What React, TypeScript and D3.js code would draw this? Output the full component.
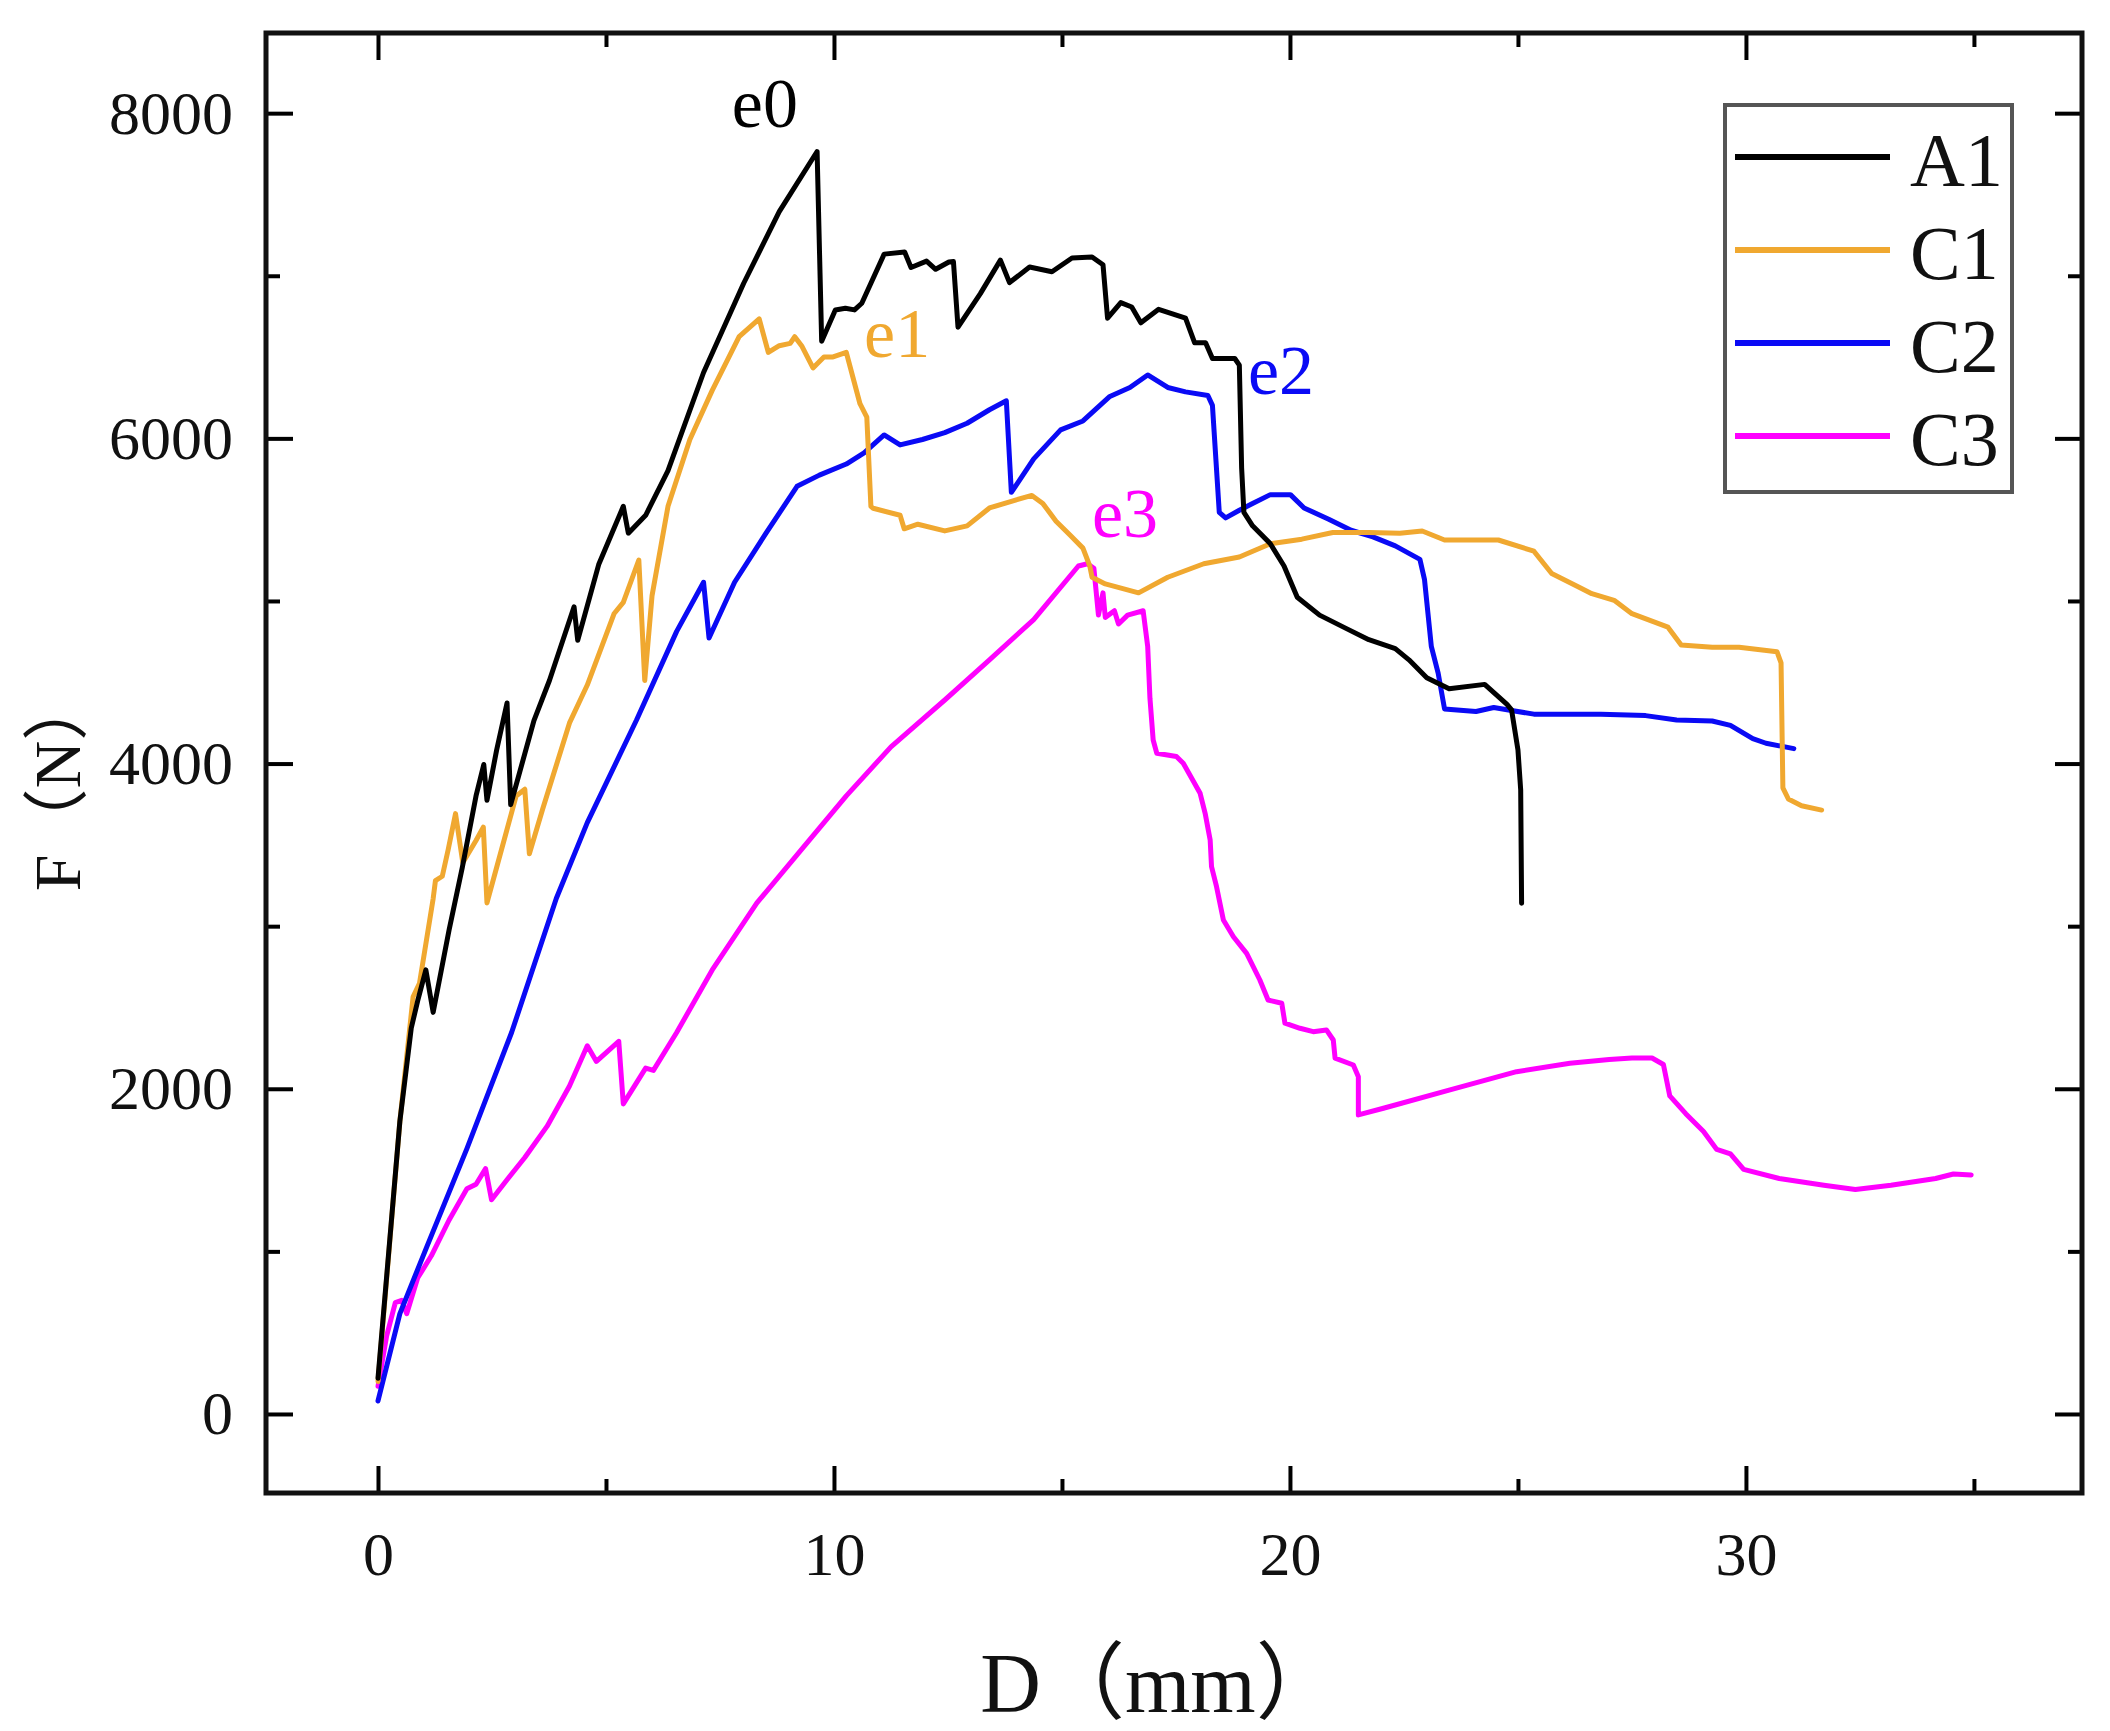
import { useEffect, useRef } from "react";
import * as d3 from "d3";

// D (mm) vs F (N)
const a1Points: [number, number][] = [
  [0.0, 220], [0.48, 1800], [0.73, 2374], [0.87, 2540], [1.05, 2731], [1.21, 2470], [1.56, 2978],
  [1.85, 3362], [2.15, 3801], [2.32, 3994], [2.39, 3774], [2.6, 4080], [2.83, 4373], [2.91, 3747],
  [3.42, 4264], [3.76, 4511], [4.3, 4964], [4.38, 4758], [4.84, 5224], [5.38, 5582], [5.49, 5417],
  [5.87, 5527], [6.36, 5801], [7.14, 6405], [8.02, 6954], [8.8, 7394], [9.63, 7764], [9.73, 6597],
  [10.03, 6790], [10.25, 6800], [10.45, 6790], [10.61, 6831], [11.1, 7133], [11.55, 7146], [11.69, 7051],
  [12.03, 7090], [12.23, 7040], [12.52, 7085], [12.62, 7087], [12.72, 6684], [13.21, 6890], [13.65, 7096],
  [13.85, 6958], [14.29, 7054], [14.78, 7025], [15.22, 7109], [15.66, 7115], [15.9, 7068], [16.0, 6739],
  [16.29, 6835], [16.53, 6808], [16.73, 6711], [17.12, 6794], [17.71, 6739], [17.91, 6588], [18.15, 6588],
  [18.3, 6491], [18.79, 6491], [18.89, 6450], [18.94, 5819], [18.99, 5545], [19.18, 5462], [19.57, 5352],
  [19.87, 5215], [20.16, 5023], [20.65, 4913], [21.24, 4830], [21.73, 4762], [22.31, 4707], [22.61, 4638],
  [23.0, 4528], [23.49, 4460], [24.27, 4487], [24.76, 4364], [24.86, 4330], [25.0, 4084], [25.06, 3838],
  [25.08, 3141],
];

const c1Points: [number, number][] = [
  [0.0, 200], [0.48, 1800], [0.77, 2566], [0.91, 2648], [1.21, 3170], [1.26, 3280], [1.41, 3307],
  [1.54, 3472], [1.7, 3692], [1.86, 3390], [2.15, 3527], [2.31, 3609], [2.39, 3143], [2.63, 3390],
  [3.03, 3801], [3.22, 3842], [3.32, 3445], [3.61, 3719], [4.2, 4250], [4.59, 4483], [5.18, 4923],
  [5.38, 4991], [5.72, 5252], [5.85, 4511], [6.01, 5032], [6.36, 5582], [6.84, 5993], [7.33, 6295],
  [7.92, 6625], [8.36, 6735], [8.56, 6529], [8.8, 6570], [9.04, 6584], [9.14, 6625], [9.29, 6570],
  [9.54, 6433], [9.78, 6501], [9.98, 6501], [10.27, 6529], [10.57, 6213], [10.72, 6131], [10.81, 5582],
  [10.86, 5570], [11.45, 5527], [11.54, 5444], [11.84, 5472], [12.43, 5431], [12.92, 5462], [13.41, 5572],
  [13.89, 5613], [14.34, 5649], [14.58, 5600], [14.87, 5490], [15.17, 5407], [15.46, 5325], [15.61, 5215],
  [15.66, 5146], [15.95, 5105], [16.68, 5050], [17.32, 5146], [18.11, 5229], [18.89, 5270], [19.57, 5352],
  [20.26, 5380], [20.94, 5421], [21.73, 5421], [22.41, 5416], [22.9, 5430], [23.39, 5375], [24.57, 5375],
  [25.35, 5306], [25.74, 5169], [26.33, 5086], [26.62, 5045], [27.11, 5004], [27.5, 4922], [28.29, 4839],
  [28.58, 4729], [29.26, 4715], [29.85, 4715], [30.68, 4688], [30.77, 4619], [30.81, 3851], [30.93, 3782],
  [31.22, 3741], [31.66, 3714],
];

const c2Points: [number, number][] = [
  [0.0, 80], [0.48, 617], [1.07, 1028], [1.95, 1632], [2.93, 2346], [3.91, 3170], [4.59, 3637],
  [5.67, 4268], [6.55, 4813], [7.14, 5115], [7.26, 4772], [7.82, 5115], [8.51, 5417], [9.19, 5705],
  [9.68, 5774], [10.27, 5842], [10.66, 5911], [11.1, 6021], [11.45, 5960], [11.94, 5993], [12.43, 6035],
  [12.92, 6093], [13.41, 6176], [13.78, 6231], [13.89, 5668], [14.38, 5874], [14.97, 6052], [15.46, 6107],
  [16.05, 6258], [16.49, 6313], [16.88, 6390], [17.32, 6313], [17.71, 6286], [18.2, 6264], [18.3, 6203],
  [18.45, 5545], [18.59, 5511], [18.89, 5558], [19.18, 5599], [19.57, 5654], [20.01, 5654], [20.31, 5572],
  [20.85, 5503], [21.34, 5435], [21.82, 5394], [22.31, 5339], [22.85, 5256], [22.95, 5133], [23.1, 4721],
  [23.25, 4556], [23.39, 4336], [24.08, 4320], [24.47, 4345], [24.76, 4331], [25.35, 4304], [26.82, 4304],
  [27.8, 4295], [28.48, 4268], [29.26, 4262], [29.66, 4235], [30.15, 4153], [30.44, 4125], [31.05, 4092],
];

const c3Points: [number, number][] = [
  [0.0, 170], [0.19, 480], [0.38, 685], [0.52, 699], [0.63, 617], [0.87, 836], [1.17, 973], [1.56, 1193],
  [1.95, 1385], [2.15, 1413], [2.36, 1509], [2.49, 1317], [2.83, 1440], [3.22, 1577], [3.71, 1770],
  [4.2, 2017], [4.59, 2264], [4.79, 2168], [5.28, 2292], [5.38, 1907], [5.87, 2127], [6.04, 2113],
  [6.55, 2346], [7.33, 2731], [8.31, 3143], [9.29, 3472], [10.27, 3801], [11.25, 4103], [12.43, 4391],
  [13.41, 4638], [14.38, 4885], [15.36, 5215], [15.56, 5229], [15.7, 5201], [15.8, 4913], [15.9, 5050],
  [15.95, 4899], [16.15, 4940], [16.24, 4858], [16.44, 4913], [16.78, 4940], [16.88, 4721], [16.93, 4400],
  [17.0, 4145], [17.08, 4063], [17.51, 4043], [17.66, 4002], [18.03, 3817], [18.14, 3694], [18.25, 3530],
  [18.28, 3366], [18.39, 3243], [18.54, 3038], [18.76, 2935], [19.05, 2833], [19.34, 2669], [19.52, 2546],
  [19.82, 2526], [19.89, 2403], [20.22, 2372], [20.51, 2351], [20.8, 2362], [20.95, 2300], [20.99, 2188],
  [21.39, 2146], [21.5, 2074], [21.5, 1839], [22.05, 1880], [23.51, 1993], [24.97, 2105], [26.14, 2157],
  [27.0, 2180], [27.5, 2189], [27.94, 2189], [28.19, 2149], [28.33, 1956], [28.68, 1847], [29.07, 1737],
  [29.36, 1627], [29.66, 1600], [29.95, 1504], [30.73, 1448], [31.71, 1407], [32.4, 1380], [33.18, 1407],
  [34.16, 1448], [34.55, 1476], [34.94, 1470],
];

const seriesNames = ["A1", "C1", "C2", "C3"];
const seriesColors = ["#000000", "#F0A830", "#0A0AF5", "#FF00FF"];

// point labels: [text, D, F, series index]
const markLabels: [string, number, number, number][] = [
  ["e0", 7.76, 7915, 0],
  ["e1", 10.66, 6501, 1],
  ["e2", 19.08, 6273, 2],
  ["e3", 15.66, 5394, 3],
];

const xMajor = [0, 10, 20, 30];
const xMinor = [5, 15, 25, 35];
const yMajor = [0, 2000, 4000, 6000, 8000];
const yMinor = [1000, 3000, 5000, 7000];

const serif = "'Liberation Serif', 'Times New Roman', 'Noto Sans CJK SC', serif";

export default function App() {
  const svgRef = useRef<SVGSVGElement>(null);

  useEffect(() => {
    if (!svgRef.current) return;
    const width = 2110;
    const height = 1731;
    const frame = { left: 266, right: 2082, top: 33, bottom: 1493 };

    const svg = d3.select(svgRef.current);
    svg.selectAll("*").remove();
    svg.attr("width", width).attr("height", height);

    const x = d3.scaleLinear().domain([-2.456, 37.37]).range([frame.left, frame.right]);
    const y = d3.scaleLinear().domain([-486, 8493]).range([frame.bottom, frame.top]);

    const styleAxis = (g: d3.Selection<SVGGElement, unknown, null, undefined>) => {
      g.select(".domain").remove();
      g.selectAll(".tick line").attr("stroke", "#000").attr("stroke-width", 4);
      g.selectAll(".tick text")
        .attr("fill", "#111")
        .attr("font-family", serif)
        .attr("font-size", 62);
    };

    // Bottom axis
    svg.append("g")
      .attr("transform", `translate(0,${frame.bottom})`)
      .call(d3.axisBottom(x).tickValues(xMajor).tickSize(-27).tickPadding(38).tickFormat(d3.format("d")))
      .call(styleAxis);
    svg.append("g")
      .attr("transform", `translate(0,${frame.bottom})`)
      .call(d3.axisBottom(x).tickValues(xMinor).tickSize(-14).tickFormat(() => ""))
      .call(styleAxis);

    // Top axis
    svg.append("g")
      .attr("transform", `translate(0,${frame.top})`)
      .call(d3.axisTop(x).tickValues(xMajor).tickSize(-27).tickFormat(() => ""))
      .call(styleAxis);
    svg.append("g")
      .attr("transform", `translate(0,${frame.top})`)
      .call(d3.axisTop(x).tickValues(xMinor).tickSize(-14).tickFormat(() => ""))
      .call(styleAxis);

    // Left axis
    svg.append("g")
      .attr("transform", `translate(${frame.left},0)`)
      .call(d3.axisLeft(y).tickValues(yMajor).tickSize(-27).tickPadding(33).tickFormat(d3.format("d")))
      .call(styleAxis);
    svg.append("g")
      .attr("transform", `translate(${frame.left},0)`)
      .call(d3.axisLeft(y).tickValues(yMinor).tickSize(-14).tickFormat(() => ""))
      .call(styleAxis);

    // Right axis
    svg.append("g")
      .attr("transform", `translate(${frame.right},0)`)
      .call(d3.axisRight(y).tickValues(yMajor).tickSize(-27).tickFormat(() => ""))
      .call(styleAxis);
    svg.append("g")
      .attr("transform", `translate(${frame.right},0)`)
      .call(d3.axisRight(y).tickValues(yMinor).tickSize(-14).tickFormat(() => ""))
      .call(styleAxis);

    // Frame
    svg.append("rect")
      .attr("x", frame.left)
      .attr("y", frame.top)
      .attr("width", frame.right - frame.left)
      .attr("height", frame.bottom - frame.top)
      .attr("fill", "none")
      .attr("stroke", "#111")
      .attr("stroke-width", 5);

    // Lines (A1 drawn last so it sits on top)
    const all = [a1Points, c1Points, c2Points, c3Points];
    const line = d3.line<[number, number]>()
      .x((d) => x(d[0]))
      .y((d) => y(d[1]));

    [3, 2, 1, 0].forEach((i) => {
      svg.append("path")
        .datum(all[i])
        .attr("fill", "none")
        .attr("stroke", seriesColors[i])
        .attr("stroke-width", 5)
        .attr("stroke-linejoin", "round")
        .attr("stroke-linecap", "round")
        .attr("d", line);
    });

    // e-labels
    markLabels.forEach(([t, dx, fy, si]) => {
      svg.append("text")
        .attr("x", x(dx))
        .attr("y", y(fy))
        .attr("fill", seriesColors[si])
        .attr("font-family", serif)
        .attr("font-size", 70)
        .text(t);
    });

    // Legend
    const lg = svg.append("g");
    lg.append("rect")
      .attr("x", 1725)
      .attr("y", 105)
      .attr("width", 287)
      .attr("height", 387)
      .attr("fill", "#fff")
      .attr("stroke", "#555")
      .attr("stroke-width", 4);
    seriesNames.forEach((name, i) => {
      const cy = 157 + i * 93;
      lg.append("line")
        .attr("x1", 1735)
        .attr("x2", 1890)
        .attr("y1", cy)
        .attr("y2", cy)
        .attr("stroke", seriesColors[i])
        .attr("stroke-width", 6);
      lg.append("text")
        .attr("x", 1910)
        .attr("y", cy + 29)
        .attr("fill", "#111")
        .attr("font-family", serif)
        .attr("font-size", 76)
        .text(name);
    });

    // Axis titles
    svg.append("text")
      .attr("x", (frame.left + frame.right) / 2 - 14)
      .attr("y", 1712)
      .attr("text-anchor", "middle")
      .attr("fill", "#111")
      .attr("font-family", serif)
      .attr("font-size", 84)
      .text("D（mm）");

    svg.append("text")
      .attr("transform", `translate(80,783) rotate(-90)`)
      .attr("text-anchor", "middle")
      .attr("fill", "#111")
      .attr("font-family", serif)
      .attr("font-size", 66)
      .text("F（N）");
  }, []);

  return (
    <div style={{ position: "absolute", left: 0, top: 0, background: "#fff" }}>
      <svg ref={svgRef} style={{ display: "block" }} />
    </div>
  );
}
